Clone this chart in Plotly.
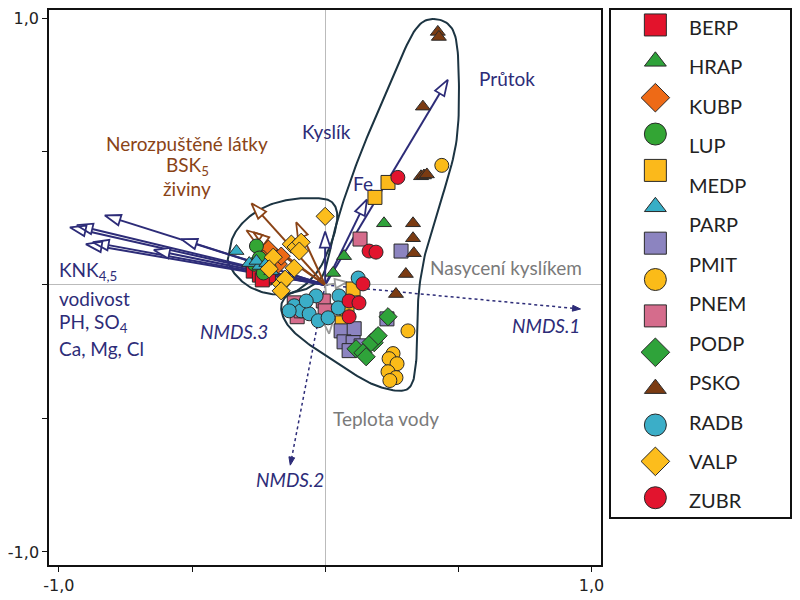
import numpy as np
import plotly.graph_objects as go

# ---------------- data (NMDS scores) ----------------
berp_x = [-0.270, -0.247, -0.228, -0.213, -0.236]
berp_y = [0.052, 0.037, 0.026, 0.034, 0.019]
hrap_x = [0.221, 0.071, 0.030]
hrap_y = [0.231, 0.108, 0.045]
kubp_x = [-0.213, -0.176, -0.232, -0.165]
kubp_y = [0.134, 0.078, 0.097, 0.108]
lup_x = [-0.258, -0.266, -0.247, -0.210, -0.232]
lup_y = [0.146, 0.078, 0.101, 0.063, 0.045]
medp_x = [0.236, 0.187, 0.105, 0.082, 0.064]
medp_y = [0.384, 0.328, -0.015, -0.104, -0.142]
parp_x = [-0.333, -0.285, -0.247, -0.258, -0.221, -0.202]
parp_y = [0.127, 0.082, 0.071, 0.090, 0.082, 0.052]
pmit_x = [0.285, 0.232, 0.060, 0.109, 0.071, 0.105, 0.135, 0.090]
pmit_y = [0.127, -0.127, -0.172, -0.164, -0.213, -0.216, -0.228, -0.246]
ycirc_x = [0.438, 0.311, 0.255, 0.240, 0.270, 0.236, 0.266, 0.243]
ycirc_y = [0.448, -0.172, -0.257, -0.276, -0.295, -0.325, -0.347, -0.358]
pnem_x = [0.131, -0.116, -0.105, -0.007, 0.000, -0.090]
pnem_y = [0.172, -0.067, -0.119, -0.060, -0.097, -0.097]
podp_x = [0.236, 0.191, 0.184, 0.172, 0.116, 0.142, 0.154, 0.199]
podp_y = [-0.119, -0.198, -0.216, -0.216, -0.239, -0.254, -0.269, -0.190]
psko_x = [0.423, 0.427, 0.367, 0.360, 0.371, 0.382, 0.330, 0.330, 0.333, 0.303, 0.266]
psko_y = [0.948, 0.929, 0.668, 0.407, 0.410, 0.414, 0.231, 0.175, 0.119, 0.041, -0.034]
radb_x = [-0.116, -0.090, -0.034, 0.052, -0.060, -0.026, 0.011, 0.049, 0.124, -0.071, -0.135]
radb_y = [-0.078, -0.097, -0.041, -0.041, -0.108, -0.134, -0.123, -0.086, 0.026, -0.060, -0.097]
valp_x = [0.000, -0.127, -0.109, -0.090, -0.097, -0.195, -0.210, -0.116, -0.165, -0.150, -0.165]
valp_y = [0.257, 0.153, 0.142, 0.160, 0.127, 0.104, 0.060, 0.063, 0.004, 0.022, -0.022]
zubr_x = [0.273, 0.165, 0.191, 0.142, 0.090, 0.127, 0.090]
zubr_y = [0.403, 0.127, 0.123, 0.004, -0.060, -0.067, -0.119]

# environmental vectors (tips)
navy_vec_x = [-0.959, -0.933, -0.899, -0.873, -0.828, -0.541, -0.644, 0.000, 0.157, 0.461]
navy_vec_y = [0.216, 0.224, 0.153, 0.160, 0.261, 0.172, 0.131, 0.200, 0.321, 0.769]
brown_vec_x = [-0.277, -0.296, -0.270, -0.109]
brown_vec_y = [0.306, 0.205, 0.198, 0.235]
gray_vec_x = [0.082, 0.015]
gray_vec_y = [0.011, -0.183]
nmds_vec_x = [0.959, -0.131]
nmds_vec_y = [-0.090, -0.675]

# group envelopes
hull_left_x = [-0.363, -0.345, -0.296, -0.221, -0.127, -0.034, 0.022, 0.045, 0.037, 0.011,
               -0.022, -0.071, -0.127, -0.202, -0.277, -0.333, -0.363]
hull_left_y = [0.108, 0.183, 0.246, 0.295, 0.321, 0.325, 0.313, 0.269, 0.201, 0.127,
               0.060, 0.004, -0.030, -0.034, -0.011, 0.034, 0.082]
hull_big_x = [0.408, 0.483, 0.502, 0.491, 0.423, 0.378, 0.352, 0.348, 0.341, 0.322, 0.273,
              0.172, 0.049, -0.079, -0.146, -0.165, -0.135, -0.071, -0.015, 0.011, 0.030,
              0.060, 0.097, 0.146, 0.236, 0.333]
hull_big_y = [0.996, 0.948, 0.772, 0.526, 0.276, 0.127, -0.022, -0.134, -0.295, -0.377, -0.396,
              -0.369, -0.295, -0.209, -0.142, -0.078, -0.034, -0.015, 0.026, 0.097, 0.183,
              0.287, 0.396, 0.526, 0.735, 0.948]

legend_labels = ["BERP", "HRAP", "KUBP", "LUP", "MEDP", "PARP", "PMIT", "PNEM",
                 "PODP", "PSKO", "RADB", "VALP", "ZUBR"]
axis_ticks = [-1, -0.5, 0, 0.5, 1]
axis_ticktext = ["-1,0", " ", " ", " ", "1,0"]

groups = [
    ("BERP", berp_x, berp_y, "square", "#E3132C"),
    ("HRAP", hrap_x, hrap_y, "triangle-up", "#2FA23A"),
    ("KUBP", kubp_x, kubp_y, "diamond", "#EE6A16"),
    ("LUP", lup_x, lup_y, "circle", "#33A534"),
    ("MEDP", medp_x, medp_y, "square", "#FBB91B"),
    ("PARP", parp_x, parp_y, "triangle-up", "#37AEC6"),
    ("PMIT", pmit_x, pmit_y, "square", "#8C84C0"),
    ("(yellow circle)", ycirc_x, ycirc_y, "circle", "#FBBB18"),
    ("PNEM", pnem_x, pnem_y, "square", "#D56C8C"),
    ("PODP", podp_x, podp_y, "diamond", "#2FA33A"),
    ("PSKO", psko_x, psko_y, "triangle-up", "#7B3B12"),
    ("RADB", radb_x, radb_y, "circle", "#3BAEC8"),
    ("VALP", valp_x, valp_y, "diamond", "#FCBD1C"),
    ("ZUBR", zubr_x, zubr_y, "circle", "#E2142E"),
]

NAVY = "#2D2C78"
BROWN = "#8A4316"
GRAY = "#9A9A9A"
HULL = "#1C3442"
FONT = "Lato"


def smooth_closed(xs, ys, n=14):
    P = np.column_stack([xs, ys])
    m = len(P)
    out = []
    for i in range(m):
        p0, p1, p2, p3 = P[(i - 1) % m], P[i], P[(i + 1) % m], P[(i + 2) % m]
        for t in np.linspace(0, 1, n, endpoint=False):
            pt = 0.5 * (2 * p1 + (-p0 + p2) * t + (2 * p0 - 5 * p1 + 4 * p2 - p3) * t * t
                        + (-p0 + 3 * p1 - 3 * p2 + p3) * t ** 3)
            out.append(pt)
    out.append(out[0])
    out = np.array(out)
    return out[:, 0], out[:, 1]


def arrows(tx, ty, L, W):
    sx, sy, hx, hy = [], [], [], []
    for x, y in zip(tx, ty):
        v = np.array([x, y])
        d = v / np.hypot(x, y)
        nrm = np.array([-d[1], d[0]])
        base = v - L * d
        sx += [0, base[0], None]
        sy += [0, base[1], None]
        a = base + W * nrm
        b = base - W * nrm
        hx += [x, a[0], b[0], x, None]
        hy += [y, a[1], b[1], y, None]
    return sx, sy, hx, hy


fig = go.Figure()

# envelopes
for hx_, hy_ in [(hull_left_x, hull_left_y), (hull_big_x, hull_big_y)]:
    cx, cy = smooth_closed(hx_, hy_)
    fig.add_trace(go.Scatter(x=cx, y=cy, mode="lines", line=dict(color=HULL, width=2),
                             hoverinfo="skip"))

# dotted NMDS axes
sx, sy, hx, hy = arrows(nmds_vec_x, nmds_vec_y, 0.03, 0.011)
fig.add_trace(go.Scatter(x=sx, y=sy, mode="lines", line=dict(color=NAVY, width=1.5, dash="dot")))
fig.add_trace(go.Scatter(x=hx, y=hy, mode="lines", fill="toself", fillcolor=NAVY,
                         line=dict(color=NAVY, width=1)))

# solid vectors with open heads
for vx, vy, col, L, W in [(navy_vec_x, navy_vec_y, NAVY, 0.06, 0.02),
                          (brown_vec_x, brown_vec_y, BROWN, 0.06, 0.02),
                          (gray_vec_x, gray_vec_y, GRAY, 0.045, 0.018)]:
    sx, sy, hx, hy = arrows(vx, vy, L, W)
    fig.add_trace(go.Scatter(x=sx, y=sy, mode="lines", line=dict(color=col, width=2)))
    fig.add_trace(go.Scatter(x=hx, y=hy, mode="lines", fill="toself", fillcolor="white",
                             line=dict(color=col, width=1.8)))

# sample points
for name, gx, gy, sym, col in groups:
    size = 13 if sym == "triangle-up" else 14
    fig.add_trace(go.Scatter(x=gx, y=gy, mode="markers", name=name,
                             marker=dict(symbol=sym, size=size, color=col,
                                         line=dict(color="#2a2a2a", width=1))))

# custom legend panel (markers and labels drift apart as in the original)
for i, (name, gx, gy, sym, col) in enumerate(groups):
    size = 19 if sym == "triangle-up" else 22
    fig.add_trace(go.Scatter(x=[655], y=[23 + 36.5 * i], xaxis="x2", yaxis="y2",
                             mode="markers",
                             marker=dict(symbol=sym, size=size, color=col,
                                         line=dict(color="#2a2a2a", width=1))))

ann = []
for j, lab in enumerate(legend_labels):
    ann.append(dict(x=687, y=25 + 39.6 * j, xref="x2", yref="y2", text=lab, showarrow=False,
                    xanchor="left", yanchor="middle",
                    font=dict(family=FONT, size=20, color="#222")))


def lab(x, y, t, col, anchor="center", italic=False):
    if italic:
        t = "<i>" + t + "</i>"
    ann.append(dict(x=x, y=y, xref="x", yref="y", text=t, showarrow=False, xanchor=anchor,
                    yanchor="middle", font=dict(family=FONT, size=19, color=col)))


lab(-1.007, 0.052, "KNK<sub>4,5</sub>", NAVY, "left")
lab(-1.007, -0.049, "vodivost", NAVY, "left")
lab(-1.007, -0.142, "PH, SO<sub>4</sub>", NAVY, "left")
lab(-1.007, -0.239, "Ca, Mg, Cl", NAVY, "left")
lab(-0.517, 0.530, "Nerozpuštěné látky", BROWN)
lab(-0.517, 0.444, "BSK<sub>5</sub>", BROWN)
lab(-0.517, 0.362, "živiny", BROWN)
lab(0.004, 0.575, "Kyslík", NAVY)
lab(0.142, 0.381, "Fe", NAVY)
lab(0.682, 0.772, "Průtok", NAVY)
lab(0.678, 0.067, "Nasycení kyslíkem", "#7A7A7A")
lab(0.228, -0.500, "Teplota vody", "#7A7A7A")
lab(0.831, -0.153, "NMDS.1", NAVY, italic=True)
lab(-0.131, -0.728, "NMDS.2", NAVY, italic=True)
lab(-0.341, -0.175, "NMDS.3", NAVY, italic=True)

fig.update_layout(
    width=800, height=600, margin=dict(l=39, r=18, t=0, b=43),
    plot_bgcolor="white", paper_bgcolor="white", showlegend=False,
    annotations=ann,
    xaxis=dict(domain=[0, 553 / 743], range=[-1.037, 1.034], tickvals=axis_ticks,
               ticktext=axis_ticktext, ticks="outside", ticklen=5, tickcolor="#111",
               showline=True, mirror=True, linecolor="#111", linewidth=1.5,
               showgrid=False, zeroline=True, zerolinecolor="#BBBBBB", zerolinewidth=1,
               tickfont=dict(family="DejaVu Sans", size=16, color="#222")),
    yaxis=dict(range=[-1.049, 1.030], tickvals=axis_ticks, ticktext=axis_ticktext,
               ticks="outside", ticklen=5, tickcolor="#111",
               showline=True, mirror=True, linecolor="#111", linewidth=1.5,
               showgrid=False, zeroline=True, zerolinecolor="#BBBBBB", zerolinewidth=1,
               tickfont=dict(family="DejaVu Sans", size=16, color="#222")),
    xaxis2=dict(domain=[564 / 743, 1], range=[611, 790], anchor="y2", showgrid=False,
                zeroline=False, showticklabels=False, ticks="", showline=True, mirror=True,
                linecolor="#111", linewidth=2),
    yaxis2=dict(domain=[48 / 557, 1], range=[517, 8], anchor="x2", showgrid=False,
                zeroline=False, showticklabels=False, ticks="", showline=True, mirror=True,
                linecolor="#111", linewidth=2),
)

fig.write_html("out.html")
